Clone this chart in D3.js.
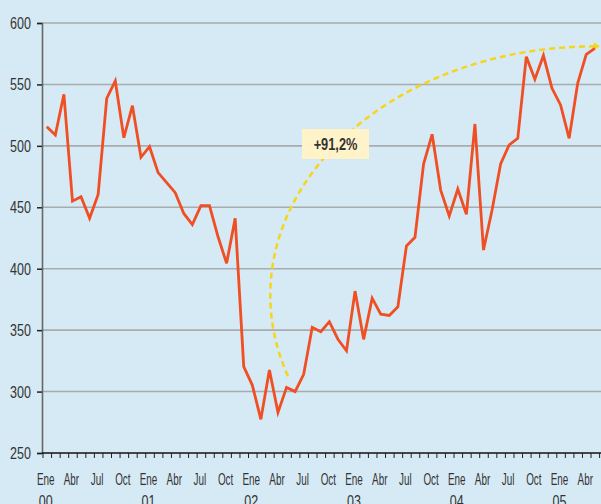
<!DOCTYPE html>
<html>
<head>
<meta charset="utf-8">
<script src="https://cdn.jsdelivr.net/npm/d3@7"></script>
<style>
  body { margin: 0; background: #d6eaf5; }
  svg { display: block; }
  text { font-family: "Liberation Sans", Arial, sans-serif; fill: #333; }
</style>
</head>
<body>
<div id="chart"></div>
<script>
var svgWidth = 601;
var svgHeight = 504;

// monthly values, Ene 00 .. May 05
var values = [
  515.6, 508.8, 542, 455, 458.6, 441, 460.5, 538.7, 552.8, 506.6, 532.7, 490.7,
  499.3, 478.2, 470, 461.9, 445, 436, 451.3, 451.3, 426, 404.4, 441, 320.3,
  305.3, 277.4, 317.6, 283, 303.4, 300, 314, 352.3, 348.7, 356.9, 342.6, 333.2,
  381.8, 342.5, 376, 363, 362, 369, 418.5, 425.6, 485.2, 509.4, 464, 442.9,
  464.9, 444.3, 517.8, 415.2, 447.8, 485.2, 500.7, 506.1, 572.6, 554.2, 573.5, 546.8,
  533.3, 506.1, 550.9, 574.5, 579.4
];
var monthLabels = ["Ene", "Abr", "Jul", "Oct"];
var yearLabels = ["00", "01", "02", "03", "04", "05"];
var yTicks = [250, 300, 350, 400, 450, 500, 550, 600];
var changeLabel = "+91,2%";

var x = d3.scaleLinear().domain([-0.5, 64.5]).range([42.5, 599.1]);
var y = d3.scaleLinear().domain([250, 600]).range([453, 23]);

var svg = d3.select("#chart").append("svg")
  .attr("width", svgWidth)
  .attr("height", svgHeight);

svg.append("rect").attr("width", svgWidth).attr("height", svgHeight).attr("fill", "#d6eaf5");

// condensed text: the original uses a narrow face, so squeeze horizontally
function narrow(sel, px, py, sx) {
  sel.attr("transform", (d, i) => `translate(${px(d, i)},${py(d, i)}) scale(${sx},1)`);
}

// gridlines
svg.append("g").selectAll("line")
  .data(yTicks.slice(1))
  .enter().append("line")
  .attr("x1", 42).attr("x2", svgWidth)
  .attr("y1", d => y(d)).attr("y2", d => y(d))
  .attr("stroke", "#a9abad")
  .attr("stroke-width", 1.6);

// y axis
var yAxis = svg.append("g")
  .attr("transform", "translate(42,0)")
  .call(d3.axisLeft(y).tickValues(yTicks).tickSize(5).tickFormat(""));
yAxis.select(".domain").attr("stroke", "#666").attr("stroke-width", 1.6);
yAxis.selectAll(".tick line").attr("stroke", "#222").attr("stroke-width", 1.5);

svg.append("g").selectAll("text")
  .data(yTicks)
  .enter().append("text")
  .attr("text-anchor", "end")
  .attr("font-size", 16.5)
  .attr("dy", "0.36em")
  .call(narrow, () => 31, d => y(d), 0.76)
  .text(d => d);

// x axis: ticks at month boundaries
var bounds = d3.range(0, values.length + 1).map(i => i - 0.5);
var xAxis = svg.append("g")
  .attr("transform", "translate(0,453)")
  .call(d3.axisBottom(x).tickValues(bounds).tickSize(5).tickFormat(""));
xAxis.select(".domain").attr("stroke", "#111").attr("stroke-width", 1.6)
  .attr("d", "M42,0H" + svgWidth);
xAxis.selectAll(".tick line").attr("stroke", "#222").attr("stroke-width", 1);

// month labels
var quarters = d3.range(0, values.length, 3);
svg.append("g").selectAll("text")
  .data(quarters)
  .enter().append("text")
  .attr("text-anchor", "middle")
  .attr("font-size", 16.5)
  .call(narrow, d => x(d) - 1, () => 485, 0.6)
  .text(d => monthLabels[(d / 3) % 4]);

svg.append("g").selectAll("text")
  .data(yearLabels)
  .enter().append("text")
  .attr("text-anchor", "middle")
  .attr("font-size", 16.5)
  .call(narrow, (d, i) => x(i * 12) - 1, () => 507, 0.76)
  .text(d => d);

// dashed elliptical arc to the last value
var arcCx = x(values.length - 1);
var arcCy = y(378.5);
var arcRx = arcCx - x(26.1);
var arcRy = arcCy - y(581);
var arcPts = d3.range(161, 270.5, 1).map(function(a) {
  var t = a * Math.PI / 180;
  return [arcCx + arcRx * Math.cos(t), arcCy + arcRy * Math.sin(t)];
});
svg.append("path")
  .attr("d", d3.line()(arcPts))
  .attr("fill", "none")
  .attr("stroke", "#f6d51a")
  .attr("stroke-width", 2.5)
  .attr("stroke-dasharray", "6,4");
var tip = arcPts[arcPts.length - 1];
svg.append("path")
  .attr("d", `M${tip[0] - 1},${tip[1] - 4}L${tip[0] + 5},${tip[1]}L${tip[0] - 1},${tip[1] + 4}Z`)
  .attr("fill", "#f6d51a");

// data line
svg.append("path")
  .datum(values)
  .attr("d", d3.line().x((d, i) => x(i)).y(d => y(d)))
  .attr("fill", "none")
  .attr("stroke", "#f04e23")
  .attr("stroke-width", 2.8)
  .attr("stroke-linejoin", "miter");

// change label
var lab = svg.append("g").attr("transform", "translate(302,129)");
lab.append("rect").attr("width", 67).attr("height", 30).attr("fill", "#fff4c9");
lab.append("text")
  .datum(changeLabel)
  .attr("text-anchor", "middle")
  .attr("font-size", 16)
  .attr("font-weight", "bold")
  .attr("fill", "#222")
  .call(narrow, () => 33.5, () => 20.5, 0.8)
  .text(d => d);
</script>
</body>
</html>
